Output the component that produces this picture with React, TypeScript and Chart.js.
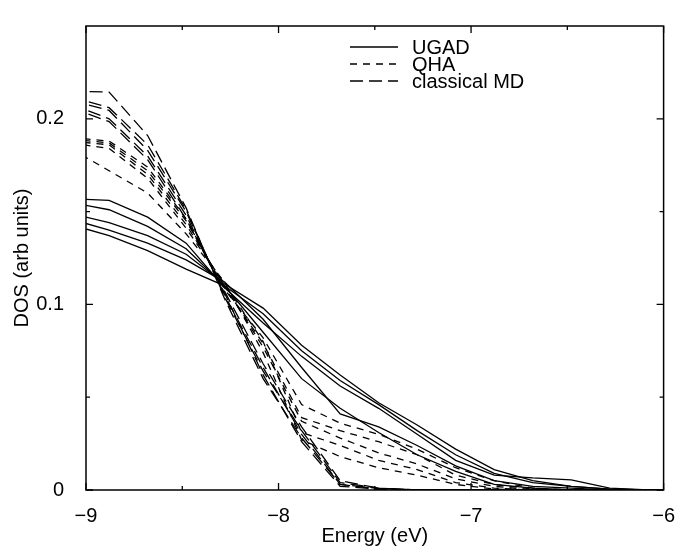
import React, { useEffect, useRef } from "react";
import { Chart, registerables } from "chart.js";

Chart.register(...registerables);

// ---------- data ----------
const energy = [-9.08, -8.88, -8.68, -8.48, -8.28, -8.08, -7.88, -7.68, -7.48, -7.28, -7.08, -6.88, -6.68, -6.48, -6.28, -6.08, -5.88];

// UGAD (solid)
const ugad1 = [0.157, 0.156, 0.147, 0.133, 0.109, 0.090, 0.072, 0.056, 0.044, 0.030, 0.016, 0.008, 0.0065, 0.0055, 0.001, 0, 0];
const ugad2 = [0.155, 0.151, 0.142, 0.130, 0.110, 0.095, 0.075, 0.059, 0.046, 0.032, 0.019, 0.009, 0.004, 0.002, 0.0005, 0, 0];
const ugad3 = [0.149, 0.144, 0.137, 0.127, 0.111, 0.098, 0.078, 0.062, 0.047, 0.035, 0.022, 0.011, 0.005, 0.002, 0.0005, 0, 0];
const ugad4 = [0.146, 0.140, 0.133, 0.124, 0.112, 0.092, 0.066, 0.041, 0.034, 0.024, 0.013, 0.005, 0.002, 0.001, 0, 0, 0];
const ugad5 = [0.143, 0.137, 0.129, 0.119, 0.110, 0.085, 0.060, 0.044, 0.031, 0.019, 0.010, 0.003, 0.001, 0, 0, 0, 0];

// QHA (short dashes)
const qha1 = [0.190, 0.188, 0.174, 0.146, 0.108, 0.082, 0.046, 0.036, 0.030, 0.022, 0.012, 0.005, 0.001, 0, 0, 0, 0];
const qha2 = [0.189, 0.187, 0.172, 0.145, 0.109, 0.079, 0.039, 0.032, 0.026, 0.019, 0.008, 0.003, 0.0005, 0, 0, 0, 0];
const qha3 = [0.188, 0.186, 0.170, 0.143, 0.110, 0.077, 0.037, 0.028, 0.020, 0.014, 0.006, 0.002, 0, 0, 0, 0, 0];
const qha4 = [0.187, 0.184, 0.168, 0.141, 0.111, 0.080, 0.031, 0.024, 0.016, 0.011, 0.004, 0.001, 0, 0, 0, 0, 0];
const qha5 = [0.184, 0.172, 0.160, 0.138, 0.112, 0.074, 0.027, 0.018, 0.012, 0.008, 0.003, 0.0005, 0, 0, 0, 0, 0];

// classical MD (long dashes)
const md1 = [0.2148, 0.2144, 0.191, 0.152, 0.103, 0.060, 0.028, 0.003, 0.0005, 0, 0, 0, 0, 0, 0, 0, 0];
const md2 = [0.212, 0.206, 0.186, 0.151, 0.104, 0.064, 0.032, 0.004, 0.001, 0, 0, 0, 0, 0, 0, 0, 0];
const md3 = [0.210, 0.2045, 0.183, 0.150, 0.105, 0.066, 0.030, 0.003, 0.0008, 0, 0, 0, 0, 0, 0, 0, 0];
const md4 = [0.208, 0.200, 0.180, 0.148, 0.106, 0.062, 0.026, 0.002, 0.0005, 0, 0, 0, 0, 0, 0, 0, 0];
const md5 = [0.206, 0.1985, 0.178, 0.146, 0.107, 0.068, 0.034, 0.005, 0.001, 0, 0, 0, 0, 0, 0, 0, 0];

const ugadSeries = [ugad1, ugad2, ugad3, ugad4, ugad5];
const qhaSeries = [qha1, qha2, qha3, qha4, qha5];
const mdSeries = [md1, md2, md3, md4, md5];

const legendLabels = ["UGAD", "QHA", "classical MD"];
const xMajorTicks = [-9, -8, -7, -6];
const xMinorTicks = [-8.5, -7.5, -6.5];
const yMajorTicks = [0, 0.1, 0.2];
const yMinorTicks = [0.05, 0.15];

// ---------- styles ----------
const FONT = "'Liberation Sans', Arial, Helvetica, sans-serif";
const FONT_SIZE = 20;
const DASH_SOLID: number[] = [];
const DASH_QHA = [7, 6];
const DASH_MD = [13, 6];
const LINE_W = 1.3;

function fmt(v: number): string {
  if (Math.abs(v) < 1e-9) return "0";
  const s = String(Math.round(Math.abs(v) * 1000) / 1000);
  return (v < 0 ? "\u2212" : "") + s;
}

const framePlugin = {
  id: "frameTicks",
  afterDraw(chart: any) {
    const { ctx, chartArea: a, scales } = chart;
    const xs = scales.x;
    const ys = scales.y;
    ctx.save();
    ctx.setLineDash([]);
    ctx.strokeStyle = "#000";
    ctx.lineWidth = 1.5;
    ctx.strokeRect(a.left, a.top, a.right - a.left, a.bottom - a.top);
    ctx.lineWidth = 1.3;
    ctx.beginPath();
    const xt = (vals: number[], len: number) => {
      for (const v of vals) {
        const px = xs.getPixelForValue(v);
        ctx.moveTo(px, a.bottom);
        ctx.lineTo(px, a.bottom - len);
        ctx.moveTo(px, a.top);
        ctx.lineTo(px, a.top + len);
      }
    };
    const yt = (vals: number[], len: number) => {
      for (const v of vals) {
        const py = ys.getPixelForValue(v);
        ctx.moveTo(a.left, py);
        ctx.lineTo(a.left + len, py);
        ctx.moveTo(a.right, py);
        ctx.lineTo(a.right - len, py);
      }
    };
    xt(xMajorTicks, 7);
    xt(xMinorTicks, 4);
    yt(yMajorTicks, 7);
    yt(yMinorTicks, 4);
    ctx.stroke();

    // legend
    const dashes = [DASH_SOLID, DASH_QHA, DASH_MD];
    const x0 = 350, x1 = 398, tx = 412;
    const rowY = [47, 64, 81];
    ctx.font = `${FONT_SIZE}px ${FONT}`;
    ctx.fillStyle = "#000";
    ctx.textBaseline = "middle";
    ctx.textAlign = "left";
    legendLabels.forEach((lab, i) => {
      ctx.beginPath();
      ctx.lineWidth = LINE_W;
      ctx.setLineDash(dashes[i]);
      ctx.moveTo(x0, rowY[i]);
      ctx.lineTo(x1, rowY[i]);
      ctx.stroke();
      ctx.setLineDash([]);
      ctx.fillText(lab, tx, rowY[i] + 1);
    });
    ctx.restore();
  },
};

function makeDatasets() {
  const mk = (arr: number[], dash: number[], label: string) => ({
    label,
    data: energy.map((x, i) => ({ x, y: arr[i] })),
    borderColor: "#000",
    backgroundColor: "#000",
    borderWidth: LINE_W,
    borderDash: dash,
    pointRadius: 0,
    tension: 0,
    fill: false,
  });
  return [
    ...ugadSeries.map((s) => mk(s, DASH_SOLID, legendLabels[0])),
    ...qhaSeries.map((s) => mk(s, DASH_QHA, legendLabels[1])),
    ...mdSeries.map((s) => mk(s, DASH_MD, legendLabels[2])),
  ];
}

export default function App() {
  const ref = useRef<HTMLCanvasElement | null>(null);
  useEffect(() => {
    if (!ref.current) return;
    const font = { family: FONT, size: FONT_SIZE };
    const chart = new Chart(ref.current, {
      type: "line",
      data: { datasets: makeDatasets() as any },
      options: {
        animation: false,
        responsive: false,
        maintainAspectRatio: false,
        layout: { padding: { left: 0, right: 12, top: 5, bottom: 0 } },
        plugins: { legend: { display: false }, tooltip: { enabled: false } },
        scales: {
          x: {
            type: "linear",
            min: -9,
            max: -6,
            grid: { display: false },
            border: { display: false },
            afterBuildTicks: (s: any) => {
              s.ticks = xMajorTicks.map((v) => ({ value: v }));
            },
            afterFit: (s: any) => {
              s.height = 64;
            },
            ticks: {
              font,
              color: "#000",
              padding: 6,
              maxRotation: 0,
              autoSkip: false,
              callback: (v: any) => fmt(Number(v)),
            },
            title: {
              display: true,
              text: "Energy (eV)",
              font,
              color: "#000",
              padding: { top: 0, bottom: 6 },
            },
          },
          y: {
            type: "linear",
            min: 0,
            max: 0.25,
            grid: { display: false },
            border: { display: false },
            afterBuildTicks: (s: any) => {
              s.ticks = yMajorTicks.map((v) => ({ value: v }));
            },
            afterFit: (s: any) => {
              s.width = 86;
            },
            ticks: {
              font,
              color: "#000",
              padding: 14,
              autoSkip: false,
              callback: (v: any) => fmt(Number(v)),
            },
            title: {
              display: true,
              text: "DOS (arb units)",
              font,
              color: "#000",
              padding: { top: 10, bottom: 0 },
            },
          },
        },
      },
      plugins: [framePlugin],
    });
    return () => chart.destroy();
  }, []);
  return (
    <div style={{ position: "absolute", left: 0, top: 0, width: 681, height: 554, background: "#fff" }}>
      <canvas ref={ref} width={681} height={554} style={{ display: "block" }} />
    </div>
  );
}
